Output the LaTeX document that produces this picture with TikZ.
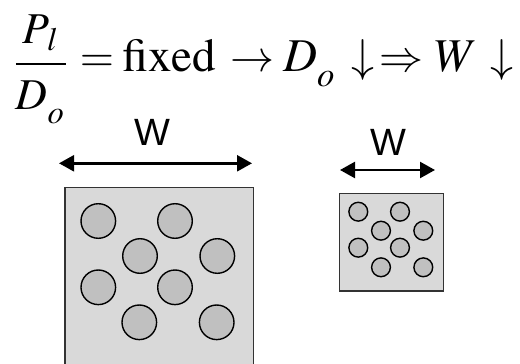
\documentclass[tikz,border=0pt]{standalone}
\usepackage{amsmath}
\usepackage{graphicx}
\usepackage{mathptmx}
\usepackage{fontspec}
\newfontfamily\arialfont{Liberation Sans}
\usepackage{tikz}
\usetikzlibrary{arrows.meta}

\definecolor{platefill}{RGB}{217,217,217}
\definecolor{holefill}{RGB}{192,192,192}

\tikzset{
  widtharrow/.style={line width=2.4pt, {Triangle[length=15pt,width=16pt]}-{Triangle[length=15pt,width=16pt]}},
  plate/.style={draw=black!80, line width=1.2pt, fill=platefill},
  hole/.style={draw=black, line width=1.4pt, fill=holefill},
  wlabel/.style={inner sep=0pt, font=\arialfont\fontsize{38}{40}\selectfont},
  eqpart/.style={anchor=base, inner sep=0pt}
}
\newcommand{\lowsub}[1]{_{\lower1.6pt\hbox{$\scriptstyle #1$}}}
\newcommand{\eqbig}[2][4.7]{\scalebox{#1}{$#2$}}

\begin{document}
\begin{tikzpicture}[x=1pt,y=-1pt]
                \useasboundingbox (0,0) rectangle (520,364);
                \clip (0,0) rectangle (520,364);
                % equation, one piece at a time
                \node (frac) [eqpart] at (41,75)
                  {\scalebox{4.4}{$\dfrac{\raisebox{0.4pt}{$P_{\,l}$}}{\lower1pt\hbox{$D\lowsub{o}$}}$}};
                \node (eqsign) [eqpart] at (97,71.7) {\eqbig[4.4]{=}};
                \node (fixedword) [eqpart] at (169,71.7) {\eqbig{\mathrm{fixed}}};
                \node (arrowto) [eqpart] at (252.5,71.7) {\eqbig[4.4]{\rightarrow}};
                \node (dsub) [eqpart] at (310,71.7) {\eqbig{D\lowsub{o}}};
                \node (downone) [eqpart] at (363,71.7) {\eqbig[4.6]{\downarrow}};
                \node (implies) [eqpart] at (401.5,71.7) {\eqbig[4.4]{\Rightarrow}};
                \node (wvar) [eqpart] at (456,71.7) {\eqbig{W}};
                \node (downtwo) [eqpart] at (501.5,71.7) {\eqbig[4.6]{\downarrow}};
                % large plate
                \draw [plate] (65,187.3) rectangle (253.3,376);
                \begin{scope}[shift={(65,187.3)}]
                  \foreach \hx/\hy in {33.3/33.7, 110/33.7, 75/68.7, 152.3/68.7, 33.3/100, 110/100, 74.3/135, 151.7/135}
                    \draw [hole] (\hx,\hy) circle [radius=17.3];
                \end{scope}
                \coordinate (bigl) at (59,163.3);
                \coordinate (bigr) at (252,163.3);
                \draw [widtharrow] (bigl) -- (bigr);
                \node (wbig) [wlabel] at (152.7,132.5) {W};
                % small plate
                \draw [plate] (339.3,193.3) rectangle (443.3,291);
                \begin{scope}[shift={(339.3,193.3)}]
                  \foreach \hx/\hy in {19/18.4, 60.7/18.4, 41.7/37.4, 84/37.4, 19/54.4, 60.7/54.4, 41.7/74, 84/74}
                    \draw [hole] (\hx,\hy) circle [radius=9.4];
                \end{scope}
                \coordinate (smalll) at (340,170);
                \coordinate (smallr) at (435,170);
                \draw [widtharrow] (smalll) -- (smallr);
                \node (wsmall) [wlabel] at (388.3,142.5) {W};
            \end{tikzpicture}
\end{document}
